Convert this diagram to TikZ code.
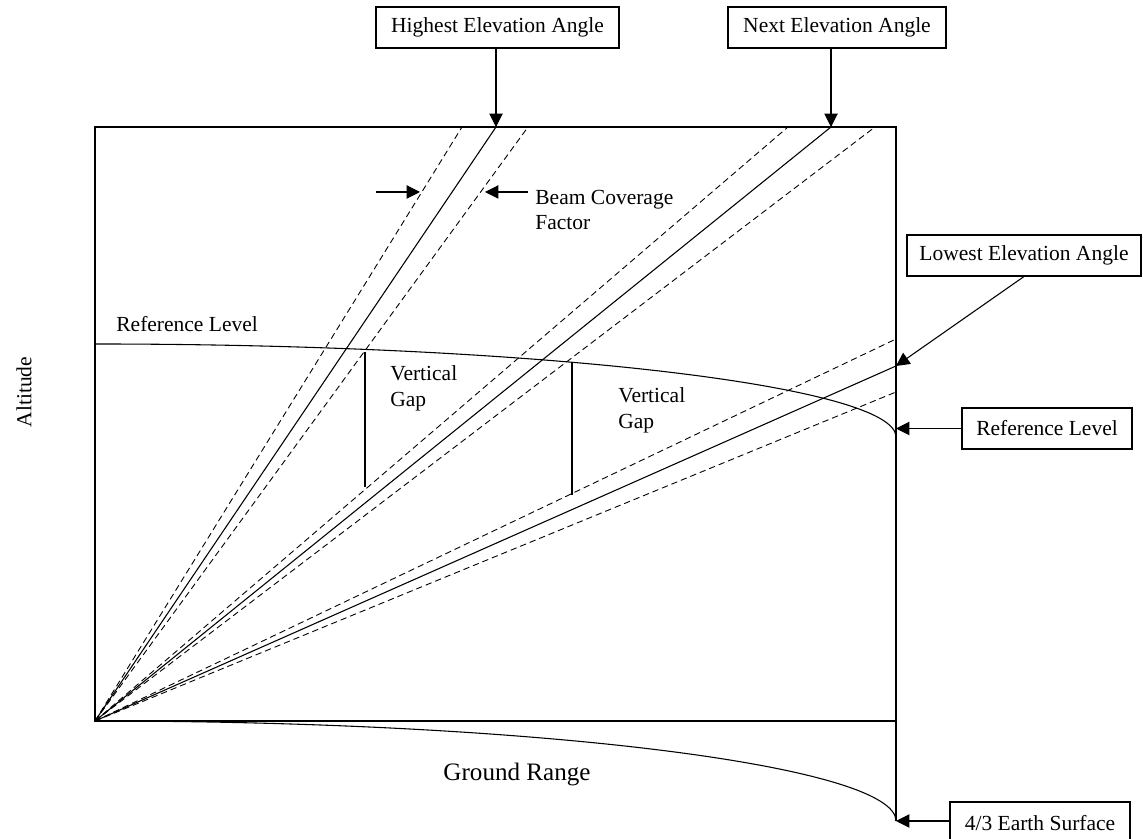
\documentclass[tikz,border=0pt]{standalone}
\usepackage{fontspec}
\setmainfont{Liberation Serif}
\usetikzlibrary{arrows.meta,positioning,calc}
\newcommand\pxu{0.558pt}

\begin{document}
\begin{tikzpicture}[
  x=\pxu,y=\pxu,
  callout/.style={draw,line width=0.6pt,inner sep=0pt,minimum height=41*\pxu,
                  font=\fontsize{12}{14.5}\selectfont},
  note/.style={align=left,inner sep=0pt,font=\fontsize{12}{14.5}\selectfont},
  beam/.style={line width=0.6pt},
  beamedge/.style={line width=0.5pt,dash pattern=on 3.5pt off 2.2pt},
  frame/.style={line width=0.7pt},
  pointer/.style={-{Triangle[length=7.5pt,width=7.5pt]},line width=0.6pt}
]
\useasboundingbox (0,0) rectangle (1143,839);

% radar at the origin, beam ends on the frame
\coordinate (O) at (95,118);
\coordinate (hi) at (496,712);
\coordinate (hiup) at (462,712);
\coordinate (hilo) at (528,712);
\coordinate (nx) at (831,712);
\coordinate (nxup) at (788,712);
\coordinate (nxlo) at (875,712);
\coordinate (lo) at (896,473);
\coordinate (loup) at (896,500);
\coordinate (lolo) at (896,447);

\foreach \b in {hi,nx,lo} \draw[beam] (O) -- (\b);
\foreach \b in {hiup,hilo,nxup,nxlo,loup,lolo} \draw[beamedge] (O) -- (\b);

% frame
\coordinate (tl) at (95,712);
\coordinate (tr) at (896,712);
\coordinate (br) at (896,118);
\coordinate (bottom) at (896,18);
\draw[frame] (O) rectangle (tr);
\draw[frame] (br) -- (bottom);

% reference level and 4/3 earth surface
\draw[beam] (95,495) arc[start angle=90,end angle=0,x radius=801,y radius=93];
\draw[beam] (O) arc[start angle=90,end angle=0,x radius=801,y radius=100];

% vertical gaps
\coordinate (gap1top) at (365,487);
\coordinate (gap1bot) at (365,352);
\coordinate (gap2top) at (572,477);
\coordinate (gap2bot) at (572,344);
\draw[beam] (gap1top) -- (gap1bot);
\draw[beam] (gap2top) -- (gap2bot);

% beam coverage marks
\coordinate (bcl) at (376,647);
\coordinate (bclend) at (420,647);
\coordinate (bcr) at (528,647);
\coordinate (bcrend) at (485,647);
\draw[pointer] (bcl) -- (bclend);
\draw[pointer] (bcr) -- (bcrend);

% labels
\node[callout,minimum width=243*\pxu] (hibox) at (497.5,811.5) {Highest Elevation Angle};
\node[callout,minimum width=218*\pxu] (nxbox) at (837,811.5) {Next Elevation Angle};
\node[callout,minimum width=234*\pxu] (lobox) at (1024,583.5) {Lowest Elevation Angle};
\node[callout,minimum width=170*\pxu] (refbox) at (1047,410.5) {Reference Level};
\node[callout,minimum width=180*\pxu,minimum height=42*\pxu] (earthbox) at (1040,16) {4/3 Earth Surface};

\node[note,anchor=west] (bcf) at (535,629) {Beam Coverage\\Factor};
\node[note,anchor=west] (gap1) at (390,450.5) {Vertical\\Gap};
\node[note,anchor=west] (gap2) at (618,428.5) {Vertical\\Gap};
\node[note,anchor=west] (reflbl) at (116,515) {Reference Level};
\node[note,rotate=90] (alt) at (24,447) {Altitude};
\node[note,font=\fontsize{14}{16}\selectfont] (ground) at (517,64) {Ground Range};

\draw[pointer] (hibox.south -| hi) -- (hi);
\draw[pointer] (nxbox.south -| nx) -- (nx);
\draw[pointer] (lobox.south) -- (lo);
\draw[pointer] (refbox.west) -- (refbox.west -| br);
\draw[pointer] (earthbox.west |- bottom) -- (bottom);
\end{tikzpicture}
\end{document}
